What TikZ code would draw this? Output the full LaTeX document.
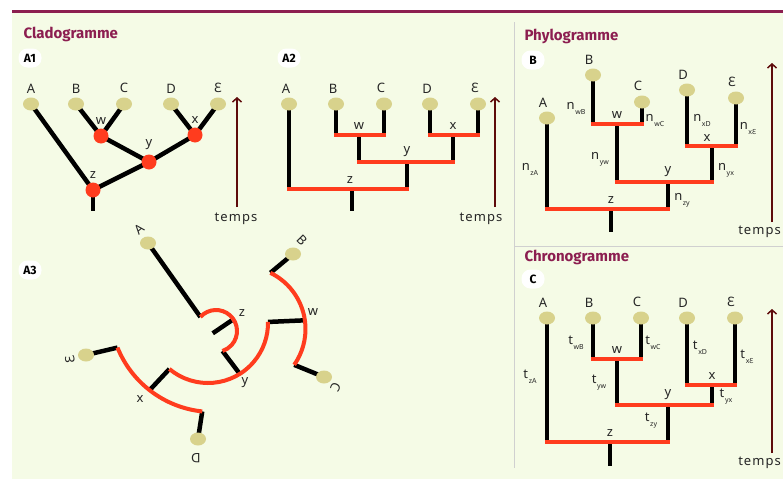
\documentclass[tikz,border=0pt]{standalone}
\usepackage{fontspec}
\setmainfont{Noto Sans}
\newfontfamily\headfont{Fira Sans}
\newfontfamily\tpsfont[LetterSpace=8]{Noto Sans}
\usepackage{tikz}
\usetikzlibrary{arrows.meta,positioning,shapes.geometric,backgrounds}
\usepackage{xcolor}
\definecolor{paper}{HTML}{F5FBE6}
\definecolor{plum}{HTML}{8C1E50}
\definecolor{knotred}{HTML}{FF3C1E}
\definecolor{leafc}{HTML}{D8D28C}
\definecolor{timec}{HTML}{5E0B0B}
\definecolor{rulec}{HTML}{D0D0D0}
\newcommand\sublab[2]{#1\kern0.6pt\raisebox{-5pt}{\fontsize{7}{7}\selectfont #2}}

\begin{document}
\begin{tikzpicture}[x=1pt,y=1pt,
      font=\fontsize{13}{15}\selectfont,
      label distance=2pt,
      leaf/.style={ellipse,fill=leafc,minimum width=16pt,minimum height=13pt,inner sep=0pt},
      knot/.style={circle,fill=knotred,minimum size=15pt,inner sep=0pt},
      lbl/.style={text=black!85,inner sep=2pt},
      tag/.style={fill=white,rounded corners=9pt,font=\headfont\bfseries\fontsize{12}{12}\selectfont,inner sep=2pt,minimum height=19pt,minimum width=23pt},
      ttl/.style={anchor=west,text=plum,font=\headfont\bfseries\fontsize{15}{15}\selectfont},
      branch/.style={line width=4.5pt,black},
      bar/.style={line width=4.5pt,knotred,line cap=rect},
      arcline/.style={line width=4pt,knotred},
      timearr/.style={-{Straight Barb[length=4pt,width=9pt,line width=1.5pt]},line width=1.5pt,timec},
      tps/.style={text=black!85,inner sep=1pt,font=\tpsfont\fontsize{13}{15}\selectfont}]

    \useasboundingbox (0,0) rectangle (783,-479);

    % ---- A1 : cladogramme en V
    \node[ttl] (cladottl) at (20,-34) {Cladogramme};
    \node[tag] (a1tag) at (30,-58) {A1};
    \foreach \n/\tx/\x in {A/A/31,B/B/76,C/C/124,D/D/171,E/Ɛ/218}
      \node[leaf,label={[lbl]above:\tx}] (a1\n) at (\x,-104) {};
    \node[knot,label={[lbl]above:w}] (a1w) at (101,-136) {};
    \node[knot,label={[lbl]above:x}] (a1x) at (195,-135) {};
    \node[knot,label={[lbl]above:y}] (a1y) at (149,-162) {};
    \node[knot,label={[lbl]above:z}] (a1z) at (93,-190) {};
    \coordinate (a1r) at (93,-211);
    \node[tps] (a1tps) at (236,-219) {temps};
    \coordinate (a1top) at (237,-97);

    % ---- A2 : cladogramme rectangulaire
    \node[tag] (a2tag) at (289,-58) {A2};
    \foreach \n/\tx/\x in {A/A/289,B/B/336,C/C/384,D/D/430,E/Ɛ/478}
      \node[leaf,label={[lbl,xshift=-3pt]above:\tx}] (a2\n) at (\x,-104) {};
    \coordinate (a2w) at (359,-135);
    \coordinate (a2x) at (453,-135);
    \coordinate (a2y) at (407,-162);
    \coordinate (a2z) at (352,-189);
    \coordinate (a2r) at (352,-211);
    \node[lbl,above=3pt of a2w] (a2wl) {w};
    \node[lbl,above=3pt of a2x] (a2xl) {x};
    \node[lbl,above=3pt of a2y] (a2yl) {y};
    \node[lbl,above=3pt of a2z,xshift=-2pt] (a2zl) {z};
    \node[tps] (a2tps) at (481,-219) {temps};
    \coordinate (a2top) at (495,-97);

    % ---- A3 : cladogramme circulaire
    \node[tag] (a3tag) at (30,-270) {A3};
    \node[leaf] (a3A) at (148,-243) {};
    \node[leaf] (a3B) at (293,-254) {};
    \node[leaf] (a3C) at (324,-377) {};
    \node[leaf] (a3D) at (198,-439) {};
    \node[leaf] (a3E) at (86,-355) {};
    \node[lbl,rotate=40] (a3Al) at (139,-229) {A};
    \node[lbl,rotate=-45] (a3Bl) at (302,-240) {B};
    \node[lbl,rotate=-115] (a3Cl) at (336,-387) {C};
    \node[lbl,rotate=180] (a3Dl) at (196,-458) {D};
    \node[lbl,rotate=100] (a3El) at (70,-360) {Ɛ};
    \node[lbl] (a3zl) at (242,-313) {z};
    \node[lbl] (a3wl) at (313,-312) {w};
    \node[lbl] (a3yl) at (245,-383) {y};
    \node[lbl] (a3xl) at (140,-399) {x};
    % centres des arcs
    \coordinate (a3zo) at (216,-331);
    \coordinate (a3yo) at (208,-323);
    \coordinate (a3xo) at (213,-309);
    \coordinate (a3wo) at (243,-329);
    \coordinate (a3z1) at ([shift={(138:21)}]a3zo);
    \coordinate (a3z2) at ([shift={(-72:21)}]a3zo);
    \coordinate (a3y1) at ([shift={(230:60)}]a3yo);
    \coordinate (a3y2) at ([shift={(1:60)}]a3yo);
    \coordinate (a3yz) at ([shift={(-58:60)}]a3yo);
    \coordinate (a3x1) at ([shift={(202:103)}]a3xo);
    \coordinate (a3x2) at ([shift={(264:103)}]a3xo);
    \coordinate (a3xy) at ([shift={(232:103)}]a3xo);
    \coordinate (a3w1) at ([shift={(64:62.5)}]a3wo);
    \coordinate (a3w2) at ([shift={(-35:62.5)}]a3wo);
    \coordinate (a3wy) at ([shift={(8:62.5)}]a3wo);

    % ---- B : phylogramme
    \node[ttl] (phyttl) at (521,-36) {Phylogramme};
    \node[tag] (phtag) at (533,-60) {B};
    \foreach \n/\tx/\x/\y in {A/A/547/118,B/B/593/75,C/C/642/102,D/D/687/90,E/Ɛ/736/98}
      \node[leaf,label={[lbl,xshift=-4pt]above:\tx}] (ph\n) at (\x,-\y) {};
    \coordinate (phw) at (617,-124);
    \coordinate (phx) at (712,-146);
    \coordinate (phy) at (668,-182);
    \coordinate (phz) at (611,-209);
    \coordinate (phr) at (611,-232);
    \node[lbl,above=3pt of phw] (phwl) {w};
    \node[lbl,above=2pt of phx,xshift=-5pt] (phxl) {x};
    \node[lbl,above=3pt of phy] (phyl) {y};
    \node[lbl,above=3pt of phz] (phzl) {z};
    \node[lbl] (phnwB) at (576,-108) {\sublab{n}{wB}};
    \node[lbl] (phnwC) at (655,-120) {\sublab{n}{wC}};
    \node[lbl] (phnyw) at (600,-159) {\sublab{n}{yw}};
    \node[lbl] (phnxD) at (702,-120) {\sublab{n}{xD}};
    \node[lbl] (phnxE) at (748,-128) {\sublab{n}{xƐ}};
    \node[lbl] (phnyx) at (726,-170) {\sublab{n}{yx}};
    \node[lbl] (phnzy) at (682,-200) {\sublab{n}{zy}};
    \node[lbl] (phnzA) at (530,-169) {\sublab{n}{zA}};
    \node[tps,anchor=east] (phtps) at (782,-232) {temps};
    \coordinate (phbot) at (772,-222);
    \coordinate (phtop) at (772,-63);

    % ---- C : chronogramme
    \node[ttl] (chrttl) at (521,-257) {Chronogramme};
    \node[tag] (chtag) at (533,-279) {C};
    \foreach \n/\tx/\x in {A/A/547,B/B/593,C/C/641,D/D/687,E/Ɛ/735}
      \node[leaf,label={[lbl,xshift=-4pt]above:\tx}] (ch\n) at (\x,-318) {};
    \coordinate (chw) at (617,-359);
    \coordinate (chx) at (712,-385);
    \coordinate (chy) at (668,-405);
    \coordinate (chz) at (610,-442);
    \coordinate (chr) at (610,-466);
    \node[lbl,above=3pt of chw] (chwl) {w};
    \node[lbl,above=3pt of chx] (chxl) {x};
    \node[lbl,above=3pt of chy] (chyl) {y};
    \node[lbl,above=3pt of chz] (chzl) {z};
    \node[lbl] (chtwB) at (576,-343) {\sublab{t}{wB}};
    \node[lbl] (chtwC) at (653,-343) {\sublab{t}{wC}};
    \node[lbl] (chtyw) at (599,-383) {\sublab{t}{yw}};
    \node[lbl] (chtxD) at (700,-348) {\sublab{t}{xD}};
    \node[lbl] (chtxE) at (747,-357) {\sublab{t}{xƐ}};
    \node[lbl] (chtyx) at (726,-397) {\sublab{t}{yx}};
    \node[lbl] (chtzy) at (651,-421) {\sublab{t}{zy}};
    \node[lbl] (chtzA) at (530,-377) {\sublab{t}{zA}};
    \node[tps,anchor=east] (chtps) at (782,-463) {temps};
    \coordinate (chbot) at (772,-453);
    \coordinate (chtop) at (772,-309);

    \begin{scope}[on background layer]
      \fill[paper] (12,-12) rectangle (783,-479);
      \draw[plum,line width=3pt] (12,-11) -- (783,-11);
      \draw[rulec,line width=1pt] (514.5,-22) -- (514.5,-468);
      \draw[rulec,line width=1pt] (514.5,-246) -- (783,-246);

      % A1
      \foreach \a/\b in {A/z,B/w,C/w,D/x,E/x,w/y,x/y,y/z,z/r}
        \draw[branch] (a1\a.center) -- (a1\b.center);
      \draw[timearr] ([yshift=12pt]a1tps.center -| a1top) -- (a1top);
      \draw[timearr] ([yshift=12pt]a2tps.center -| a2top) -- (a2top);

      % arbres rectangulaires
      \foreach \p in {a2,ph,ch}{
        \foreach \a/\b in {A/z,B/w,C/w,D/x,E/x}
          \draw[branch] (\p\a.center) -- (\p\a |- \p\b);
        \foreach \a/\b in {w/y,x/y,y/z}
          \draw[branch] (\p\a) -- (\p\a |- \p\b);
        \draw[branch] (\p z) -- (\p r);
        \draw[bar] (\p B |- \p w) -- (\p C |- \p w);
        \draw[bar] (\p D |- \p x) -- (\p E |- \p x);
        \draw[bar] (\p w |- \p y) -- (\p x |- \p y);
        \draw[bar] (\p A |- \p z) -- (\p y |- \p z);
      }
      \draw[timearr] (phbot) -- (phtop);
      \draw[timearr] (chbot) -- (chtop);

      % A3
      \draw[branch] (a3z1) -- (a3A.center);
      \draw[branch] ([shift={(215:4)}]a3zo) -- ([shift={(34:19)}]a3zo);
      \draw[branch] (a3z2) -- (a3yz);
      \draw[branch] (a3y1) -- (a3xy);
      \draw[branch] (a3y2) -- (a3wy);
      \draw[branch] (a3x1) -- (a3E.center);
      \draw[branch] (a3x2) -- (a3D.center);
      \draw[branch] (a3w1) -- (a3B.center);
      \draw[branch] (a3w2) -- (a3C.center);
      \draw[arcline] (a3z1) arc[start angle=138,end angle=-72,radius=21];
      \draw[arcline] (a3y1) arc[start angle=230,end angle=361,radius=60];
      \draw[arcline] (a3x1) arc[start angle=202,end angle=264,radius=103];
      \draw[arcline] (a3w1) arc[start angle=64,end angle=-35,radius=62.5];
    \end{scope}
  \end{tikzpicture}
\end{document}
